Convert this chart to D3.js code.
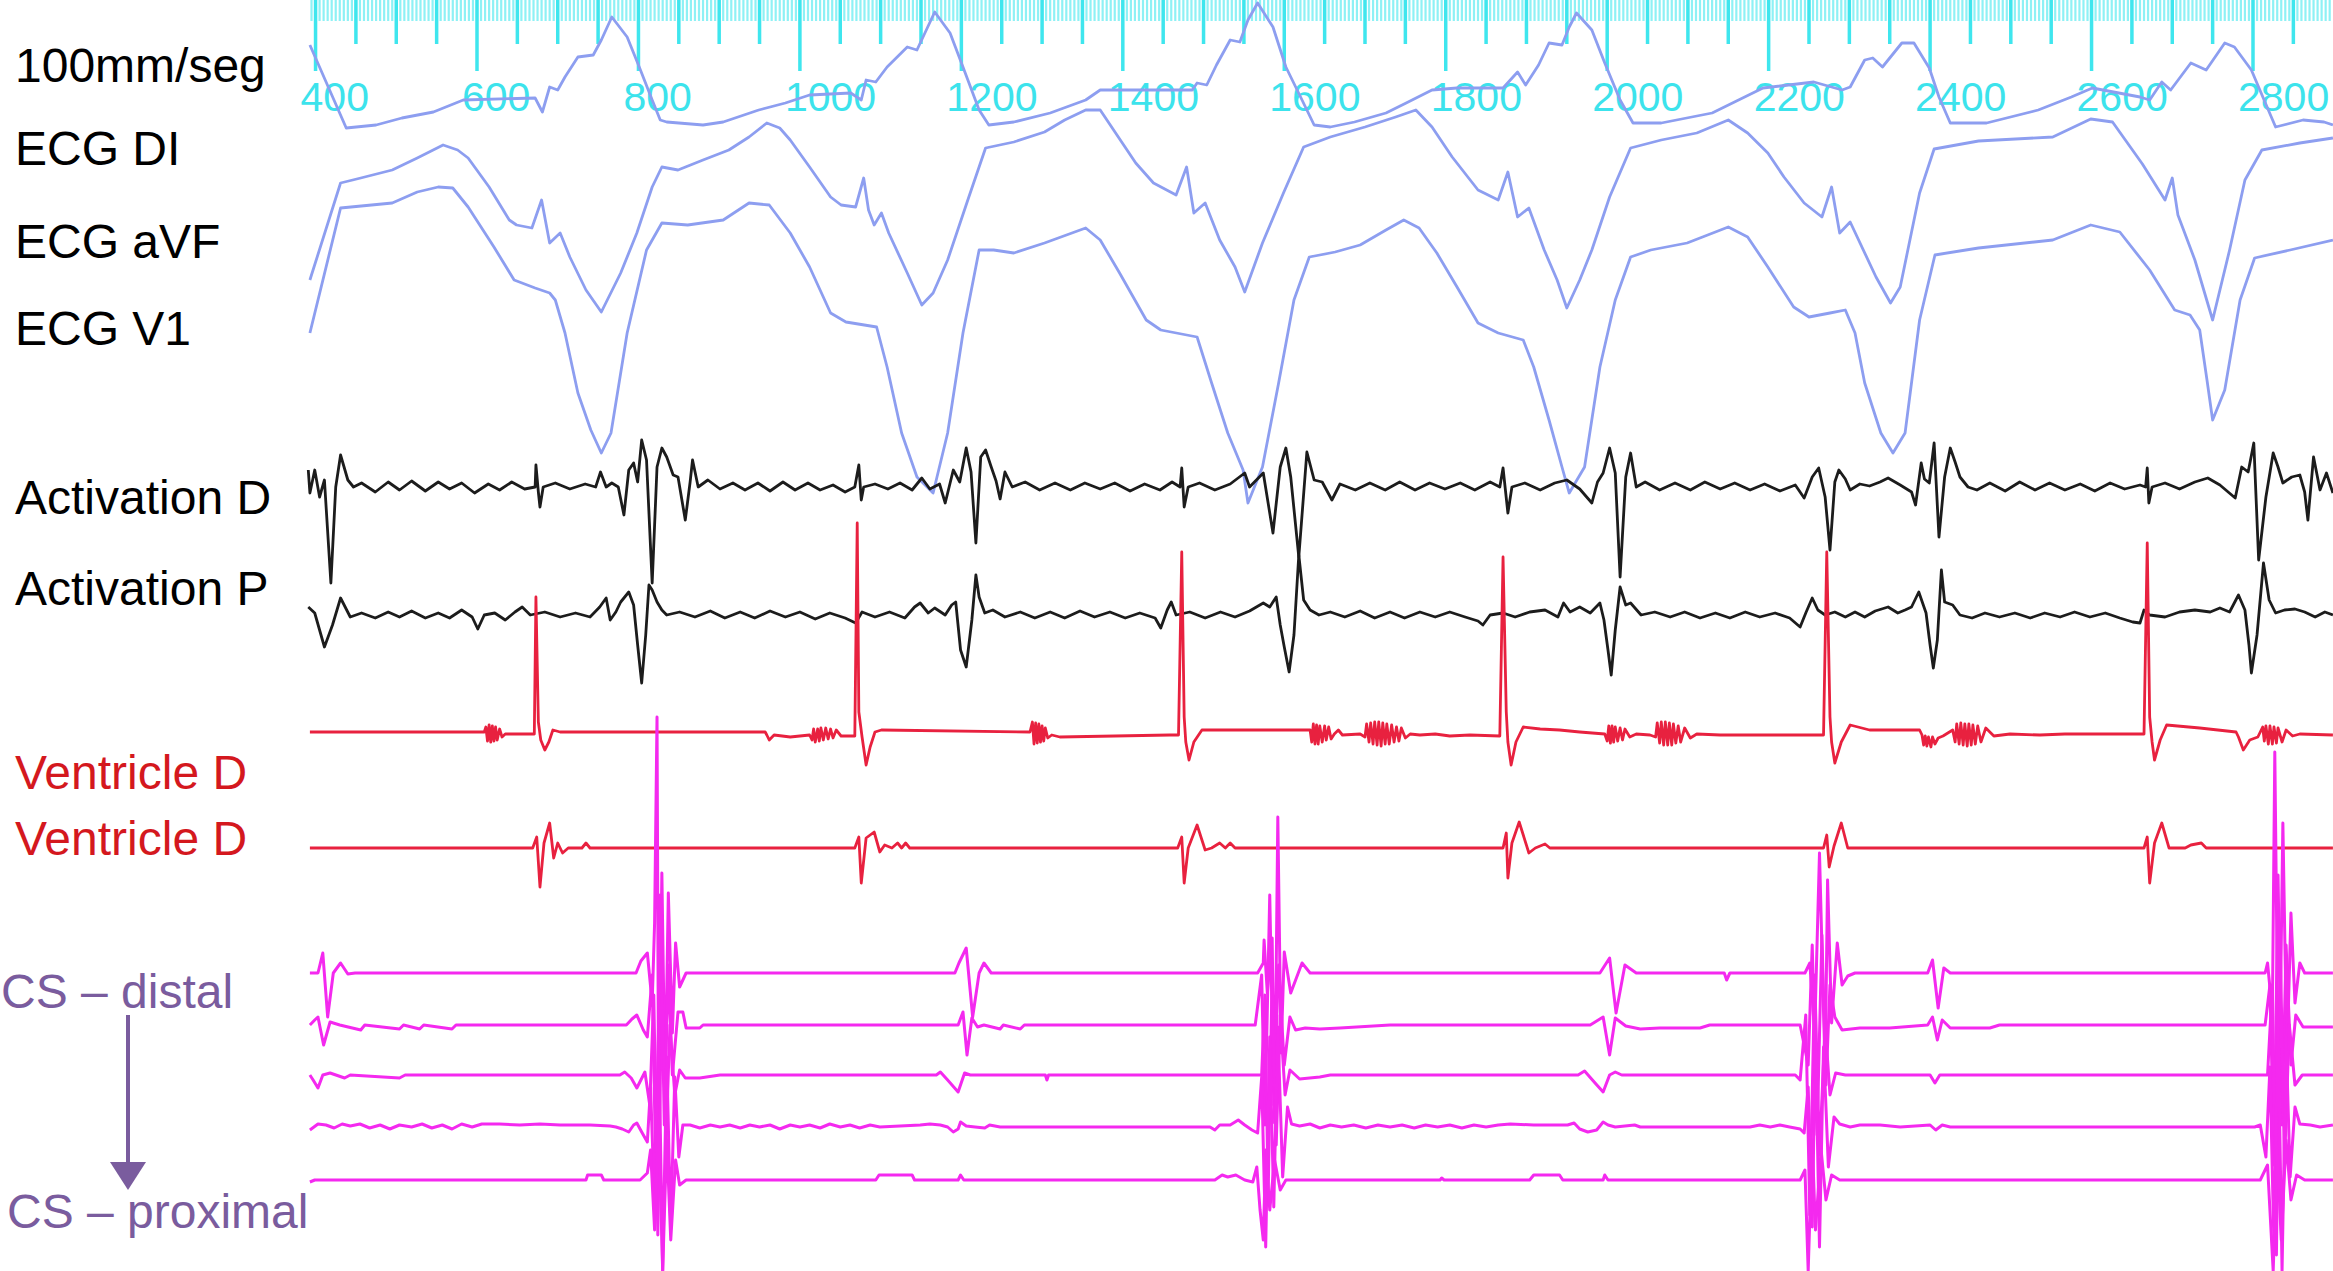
<!DOCTYPE html>
<html>
<head>
<meta charset="utf-8">
<script src="https://cdn.jsdelivr.net/npm/d3@7"></script>
<style>
  body { margin: 0; background: #fff; }
  svg { display: block; }
  text { font-family: "Liberation Sans", Arial, Helvetica, sans-serif; }
</style>
</head>
<body>
<div id="chart"></div>
<script>
// ruler labels (ms)
var rulerLabels = [400, 600, 800, 1000, 1200, 1400, 1600, 1800, 2000, 2200, 2400, 2600, 2800];

// each trace: [time in ms, amplitude]
var ecgDI = [[393,.80],[438,-.03],[475,0],[507,.07],[546,.13],[583,.25],[672,.27],[681,.13],[690,.38],[700,.35],[709,.48],[725,.68],[744,.70],[754,.85],[767,1.08],[786,.88],[801,.58],[817,.25],[827,.05],[835,.03],[880,0],[905,.03],[949,.15],[982,.22],[1012,.30],[1063,.32],[1076,.25],[1082,.45],[1094,.43],[1108,.58],[1133,.78],[1145,.75],[1167,1.13],[1186,.92],[1202,.58],[1222,.15],[1234,0],[1265,.03],[1310,.12],[1354,.25],[1372,.35],[1486,.35],[1492,.42],[1504,.40],[1516,.60],[1533,.85],[1545,.83],[1555,1.05],[1567,1.22],[1586,.98],[1602,.58],[1622,.25],[1637,0],[1657,-.02],[1687,.03],[1726,.12],[1751,.22],[1783,.35],[1814,.37],[1871,.37],[1889,.53],[1899,.40],[1915,.60],[1928,.82],[1944,.80],[1953,.98],[1962,1.12],[1981,.95],[1997,.62],[2016,.25],[2032,.02],[2067,.02],[2130,.12],[2193,.37],[2256,.43],[2291,.35],[2301,.38],[2319,.65],[2329,.67],[2341,.58],[2365,.82],[2380,.82],[2399,.57],[2411,.28],[2425,.02],[2470,.02],[2534,.15],[2575,.28],[2601,.37],[2660,.28],[2672,.25],[2687,.43],[2698,.35],[2723,.62],[2742,.55],[2765,.82],[2777,.78],[2798,.55],[2819,.15],[2828,-.02],[2862,.05],[2888,.03],[2899,0]];

var ecgAVF = [[393,-.50],[431,.47],[456,.52],[495,.60],[526,.72],[558,.85],[576,.80],[589,.72],[615,.43],[640,.10],[649,.05],[668,.02],[680,.30],[690,-.13],[703,-.03],[715,-.27],[735,-.60],[754,-.82],[778,-.43],[798,-.03],[817,.43],[829,.63],[849,.60],[880,.70],[912,.80],[937,.93],[959,1.07],[975,1.02],[988,.90],[1012,.63],[1038,.33],[1051,.25],[1069,.23],[1079,.52],[1085,.20],[1092,.05],[1101,.17],[1110,-.03],[1133,-.43],[1151,-.75],[1165,-.63],[1183,-.30],[1208,.30],[1230,.82],[1265,.88],[1303,.98],[1328,1.10],[1354,1.20],[1372,1.20],[1416,.67],[1438,.47],[1466,.35],[1479,.63],[1488,.17],[1502,.27],[1520,-.10],[1539,-.37],[1551,-.62],[1573,-.13],[1599,.37],[1624,.83],[1657,.93],[1700,1.03],[1738,1.13],[1763,1.20],[1783,1.03],[1808,.73],[1840,.40],[1865,.30],[1877,.58],[1889,.13],[1903,.22],[1922,-.20],[1938,-.50],[1950,-.78],[1966,-.50],[1981,-.20],[2003,.33],[2029,.82],[2067,.90],[2111,.97],[2150,1.10],[2174,.97],[2199,.77],[2219,.53],[2244,.27],[2266,.13],[2278,.43],[2288,-.03],[2301,.08],[2333,-.47],[2351,-.73],[2363,-.57],[2387,.37],[2405,.81],[2460,.89],[2552,.93],[2599,1.11],[2626,1.08],[2663,.66],[2691,.30],[2700,.52],[2707,.15],[2728,-.30],[2750,-.90],[2771,-.20],[2790,.50],[2811,.80],[2858,.87],[2899,.92]];

var ecgV1 = [[393,-.03],[431,1.22],[495,1.27],[526,1.38],[552,1.43],[570,1.42],[589,1.23],[621,.83],[646,.50],[672,.42],[690,.37],[697,.30],[709,-.03],[725,-.63],[741,-1.00],[754,-1.23],[766,-1.03],[786,-.03],[810,.80],[829,1.07],[861,1.05],[905,1.10],[937,1.27],[962,1.25],[988,.97],[1012,.63],[1038,.17],[1057,.08],[1095,.03],[1108,-.37],[1126,-1.03],[1145,-1.47],[1165,-1.63],[1183,-1.03],[1202,-.03],[1222,.80],[1240,.80],[1265,.77],[1303,.87],[1354,1.02],[1372,.90],[1396,.57],[1429,.10],[1447,0],[1492,-.07],[1510,-.53],[1530,-1.03],[1549,-1.40],[1555,-1.73],[1573,-1.37],[1593,-.53],[1612,.30],[1631,.73],[1663,.78],[1694,.85],[1726,1.00],[1748,1.10],[1767,1.02],[1789,.77],[1814,.43],[1840,.07],[1865,-.03],[1896,-.10],[1909,-.37],[1928,-.90],[1944,-1.37],[1953,-1.63],[1972,-1.37],[1991,-.37],[2010,.30],[2029,.73],[2054,.80],[2099,.87],[2150,1.03],[2174,.93],[2199,.63],[2231,.23],[2250,.13],[2276,.17],[2295,.20],[2307,-.03],[2319,-.53],[2339,-1.03],[2354,-1.23],[2369,-1.03],[2387,.10],[2406,.75],[2460,.82],[2552,.90],[2599,1.05],[2635,.98],[2672,.60],[2703,.20],[2722,.15],[2734,0],[2743,-.50],[2750,-.90],[2765,-.60],[2784,.30],[2802,.72],[2846,.80],[2899,.90]];

var actD = [[391,.17],[393,-.06],[399,.17],[405,-.10],[411,.07],[419,-.96],[425,0],[431,.32],[440,.07],[447,0],[457,.04],[474,-.05],[490,.05],[504,-.03],[519,.06],[536,-.04],[552,.05],[566,-.02],[581,.04],[597,-.06],[614,.03],[628,-.03],[643,.05],[659,-.02],[672,0],[673,.22],[676,-.05],[678,-.20],[682,0],[697,.04],[715,-.02],[734,.03],[747,0],[753,.15],[760,0],[767,.04],[775,0],[782,-.28],[788,.17],[794,.24],[799,.05],[804,.47],[810,.27],[817,-.96],[823,.20],[829,.39],[835,.30],[843,.12],[849,.10],[858,-.33],[864,.05],[867,.27],[874,0],[886,.07],[901,-.02],[917,.04],[932,-.03],[948,.04],[963,-.04],[979,.05],[994,-.03],[1010,.04],[1025,-.03],[1041,.02],[1056,-.05],[1068,0],[1073,.22],[1076,-.13],[1079,0],[1093,.03],[1109,-.02],[1124,.04],[1139,-.03],[1151,.09],[1161,-.02],[1173,.03],[1180,-.16],[1190,.17],[1198,.05],[1206,.39],[1212,.15],[1218,-.56],[1224,.30],[1230,.37],[1237,.20],[1243,.06],[1248,-.12],[1254,.15],[1263,0],[1279,.05],[1297,-.03],[1316,.04],[1335,-.03],[1353,.04],[1372,-.02],[1390,.04],[1409,-.04],[1427,.03],[1446,-.03],[1461,.05],[1471,0],[1473,.19],[1476,-.20],[1481,0],[1495,.04],[1514,-.03],[1533,.03],[1551,.14],[1557,0],[1574,.14],[1586,-.46],[1595,.20],[1602,.39],[1608,.10],[1618,-.70],[1628,.35],[1637,.07],[1647,.05],[1659,-.13],[1669,.03],[1688,-.03],[1706,.04],[1725,-.03],[1743,.05],[1762,-.03],[1780,.04],[1799,-.02],[1818,.04],[1836,-.03],[1855,.05],[1867,0],[1871,.19],[1877,-.26],[1882,0],[1898,.04],[1917,-.03],[1935,.04],[1950,.07],[1966,-.02],[1981,-.16],[1988,.05],[1995,.14],[2003,.39],[2010,.14],[2016,-.90],[2023,.10],[2029,.34],[2036,0],[2047,.05],[2065,-.03],[2084,.04],[2103,-.03],[2121,.05],[2140,-.02],[2158,.04],[2177,-.03],[2195,.03],[2214,-.04],[2233,.02],[2244,-.11],[2254,.10],[2262,.19],[2270,-.10],[2276,-.63],[2282,.05],[2287,.17],[2295,.08],[2301,-.03],[2313,.03],[2325,.01],[2338,.05],[2348,.09],[2363,.02],[2377,-.05],[2382,-.18],[2389,.24],[2393,.08],[2399,.04],[2405,.44],[2411,-.50],[2418,.10],[2425,.39],[2431,.25],[2437,.10],[2447,0],[2458,-.03],[2474,.04],[2493,-.04],[2511,.05],[2530,-.03],[2548,.04],[2567,-.03],[2586,.03],[2604,-.04],[2623,.04],[2641,-.02],[2660,.02],[2667,0],[2669,.19],[2671,-.16],[2675,0],[2691,.04],[2709,-.02],[2728,.05],[2744,.09],[2759,.02],[2778,-.11],[2786,.20],[2794,.15],[2801,.44],[2807,-.73],[2816,-.10],[2825,.34],[2831,.20],[2837,.04],[2848,.10],[2858,.12],[2864,-.05],[2868,-.33],[2875,.30],[2883,-.03],[2891,.14],[2899,-.06]];

var actP = [[391,.08],[399,.02],[411,-.32],[421,-.10],[431,.17],[443,-.02],[457,.02],[474,-.03],[490,.03],[504,-.02],[519,.04],[536,-.03],[552,.02],[566,-.03],[581,.05],[594,-.02],[601,-.14],[609,0],[622,.02],[635,-.05],[647,.03],[656,.08],[666,0],[684,.03],[703,-.02],[722,.02],[740,-.02],[752,.08],[760,.17],[765,-.05],[772,.03],[778,.13],[788,.23],[794,.10],[799,-.30],[804,-.68],[809,-.20],[813,.30],[817,.25],[823,.13],[829,.05],[835,0],[851,.03],[870,-.02],[889,.04],[907,-.03],[926,.03],[944,-.03],[963,.04],[982,-.02],[1000,.03],[1019,-.04],[1037,.02],[1056,-.03],[1069,-.08],[1077,.03],[1093,-.02],[1111,.03],[1130,-.03],[1142,.08],[1149,.12],[1159,.02],[1167,.07],[1180,0],[1188,.10],[1193,.13],[1199,-.35],[1206,-.52],[1213,-.05],[1218,.40],[1222,.18],[1229,.02],[1239,.05],[1254,-.02],[1273,.03],[1291,-.03],[1310,.03],[1328,-.03],[1347,.04],[1365,-.02],[1384,.03],[1403,-.03],[1421,.02],[1440,-.03],[1447,-.13],[1455,.05],[1460,.13],[1466,0],[1483,.03],[1502,-.03],[1521,.03],[1539,-.02],[1557,.04],[1574,.12],[1582,.08],[1590,.18],[1595,-.10],[1600,-.32],[1606,-.57],[1612,-.20],[1618,.60],[1624,.15],[1632,.05],[1643,0],[1657,.03],[1675,-.02],[1694,.04],[1712,-.03],[1731,.03],[1749,-.03],[1768,.03],[1787,-.02],[1805,.03],[1824,-.02],[1840,-.06],[1846,-.10],[1855,0],[1871,.02],[1886,-.02],[1904,.03],[1923,.05],[1939,-.02],[1946,.12],[1954,.03],[1966,.08],[1979,.02],[1991,.12],[1996,-.05],[2001,-.35],[2005,-.60],[2010,-.15],[2016,.28],[2023,.10],[2029,.12],[2042,0],[2059,.03],[2078,-.02],[2096,.03],[2115,-.03],[2134,.02],[2152,-.03],[2171,.03],[2189,-.02],[2208,.02],[2226,-.03],[2239,-.12],[2246,.02],[2254,.17],[2261,.05],[2270,0],[2282,.03],[2295,-.02],[2307,.03],[2319,-.02],[2332,.04],[2348,.08],[2360,.02],[2369,.05],[2377,.08],[2386,.23],[2395,.02],[2400,-.30],[2404,-.53],[2409,-.25],[2414,.45],[2418,.13],[2428,.10],[2437,0],[2452,-.03],[2468,.02],[2486,-.02],[2505,.02],[2524,-.03],[2542,.02],[2561,-.02],[2579,.03],[2598,-.02],[2617,.02],[2635,-.03],[2651,-.07],[2660,-.08],[2665,.05],[2672,0],[2691,-.02],[2709,.03],[2728,.05],[2747,.03],[2759,.07],[2771,.03],[2782,.20],[2790,.05],[2795,-.30],[2798,-.58],[2805,-.20],[2813,.52],[2820,.15],[2828,.02],[2839,.05],[2852,.06],[2864,.03],[2877,-.02],[2889,.03],[2899,0]];

var ventD1 = [[393,0],[609,0],[611,.05],[613,-.09],[615,.07],[617,-.10],[619,.06],[621,-.09],[623,.05],[625,-.08],[628,.03],[631,-.05],[635,-.02],[666,-.02],[671,-.02],[673,1.35],[676,.10],[679,-.08],[684,-.18],[689,-.10],[694,.02],[703,0],[957,0],[959,-.03],[962,-.08],[968,-.03],[988,-.05],[1012,-.03],[1015,-.08],[1017,.03],[1019,-.10],[1022,.03],[1024,-.09],[1026,.04],[1029,-.08],[1032,.04],[1035,-.07],[1038,.03],[1041,-.06],[1045,.02],[1051,-.04],[1062,-.04],[1068,-.04],[1071,2.09],[1073,.20],[1077,-.05],[1082,-.33],[1087,-.15],[1093,0],[1101,.02],[1285,0],[1288,.10],[1290,-.12],[1292,.09],[1294,-.11],[1296,.08],[1298,-.10],[1300,.06],[1302,-.09],[1304,.04],[1307,-.06],[1312,-.03],[1322,-.05],[1458,-.03],[1469,-.03],[1473,1.80],[1476,.15],[1478,-.10],[1482,-.28],[1488,-.10],[1498,.02],[1632,.02],[1634,-.10],[1636,.08],[1638,-.12],[1640,.07],[1642,-.12],[1644,.06],[1647,-.10],[1650,.06],[1652,-.08],[1655,.05],[1658,-.07],[1662,-.02],[1667,.02],[1672,-.03],[1694,-.02],[1700,-.05],[1702,.08],[1705,-.10],[1707,.09],[1710,-.12],[1712,.10],[1715,-.13],[1717,.10],[1720,-.14],[1722,.09],[1725,-.12],[1727,.08],[1730,-.12],[1733,.07],[1736,-.10],[1739,.05],[1742,-.09],[1745,.04],[1750,-.06],[1756,-.02],[1768,-.03],[1787,-.02],[1805,-.04],[1830,-.03],[1867,-.04],[1871,1.75],[1875,.20],[1877,-.10],[1881,-.33],[1887,-.10],[1896,.05],[1917,.03],[1941,.02],[1966,0],[1997,-.02],[2000,-.09],[2002,.06],[2004,-.11],[2006,.06],[2008,-.10],[2010,.05],[2013,-.09],[2016,.04],[2019,-.08],[2022,.03],[2028,-.05],[2036,-.02],[2053,-.03],[2060,-.05],[2062,.09],[2065,-.11],[2067,.10],[2070,-.13],[2072,.10],[2075,-.13],[2077,.09],[2080,-.13],[2082,.08],[2085,-.11],[2088,.06],[2091,-.10],[2096,.04],[2103,-.06],[2111,-.02],[2140,-.03],[2187,-.03],[2239,-.03],[2268,-.03],[2272,1.80],[2276,.15],[2278,-.10],[2282,-.31],[2290,-.10],[2301,.07],[2325,.02],[2387,.02],[2390,-.03],[2392,-.13],[2394,-.04],[2396,-.14],[2398,-.05],[2401,-.15],[2403,-.05],[2406,-.12],[2410,-.06],[2416,-.04],[2428,.02],[2431,-.10],[2433,.08],[2436,-.12],[2438,.09],[2441,-.13],[2443,.08],[2446,-.14],[2448,.08],[2451,-.13],[2453,.07],[2456,-.12],[2459,.06],[2463,-.10],[2469,.04],[2479,-.04],[2499,-.02],[2536,-.03],[2567,-.02],[2665,-.02],[2669,1.89],[2672,.15],[2675,-.10],[2678,-.28],[2685,-.08],[2693,.07],[2734,.04],[2779,0],[2782,-.05],[2788,-.18],[2796,-.08],[2806,-.05],[2812,.05],[2814,-.09],[2816,.06],[2819,-.12],[2821,.06],[2824,-.12],[2826,.05],[2829,-.11],[2831,.04],[2836,-.10],[2841,.02],[2849,-.04],[2858,-.02],[2899,-.03]];

var ventD2 = [[393,0],[669,0],[674,.11],[678,-.39],[683,.05],[690,.25],[695,-.10],[700,.05],[706,-.05],[713,0],[730,0],[735,.05],[740,0],[1068,0],[1073,.11],[1076,-.35],[1082,.10],[1092,.16],[1099,-.04],[1105,.03],[1114,0],[1121,.05],[1126,0],[1131,.05],[1136,0],[1468,0],[1473,.11],[1476,-.35],[1481,0],[1492,.23],[1502,-.02],[1510,0],[1520,.05],[1527,0],[1533,.05],[1539,0],[1871,0],[1875,.15],[1877,-.30],[1882,.05],[1891,.26],[1903,-.05],[1911,0],[1923,.04],[1929,0],[2268,0],[2272,.13],[2275,-.19],[2281,.02],[2290,.25],[2298,0],[2665,0],[2669,.11],[2672,-.35],[2678,.05],[2687,.25],[2696,0],[2716,0],[2723,.03],[2736,.05],[2742,0],[2899,0]];

var cs1 = [[393,0],[403,0],[409,.20],[415,-.44],[422,0],[431,.10],[440,-.01],[449,0],[797,0],[803,.12],[811,.20],[817,-.30],[820,.50],[823,2.56],[825,-1.5],[829,1.0],[833,-1.2],[837,.8],[842,-.6],[846,.3],[851,-.14],[859,0],[1192,0],[1197,.10],[1206,.25],[1214,-.44],[1222,0],[1228,.10],[1237,0],[1567,0],[1574,.10],[1575,.33],[1579,-.20],[1585,.35],[1588,-1.5],[1592,1.56],[1596,-.8],[1600,.21],[1608,-.20],[1622,.10],[1632,0],[1991,0],[1995,.05],[2003,.15],[2011,-.40],[2022,.08],[2036,0],[2145,0],[2148,-.07],[2152,0],[2245,0],[2251,.10],[2257,-.6],[2263,1.2],[2270,-1.0],[2273,.93],[2278,-.5],[2285,.3],[2291,-.12],[2298,-.03],[2307,0],[2397,0],[2403,.13],[2410,-.35],[2417,.05],[2425,0],[2815,0],[2818,.10],[2824,-.4],[2827,2.21],[2832,-1.5],[2837,1.5],[2842,-.9],[2847,.6],[2852,-.3],[2858,.1],[2864,0],[2899,0]];

var cs2 = [[393,0],[399,.05],[403,.08],[410,-.20],[418,.03],[430,0],[456,-.05],[461,0],[504,-.04],[509,0],[529,-.04],[534,0],[569,-.04],[574,0],[785,0],[792,.06],[798,.10],[806,-.05],[811,-.12],[817,.5],[822,-1.7],[827,1.3],[832,-1.0],[837,.6],[842,-.5],[849,.13],[855,.13],[859,-.03],[864,-.03],[876,-.03],[880,0],[1196,0],[1202,.13],[1207,-.30],[1213,.07],[1220,-.02],[1228,0],[1248,-.04],[1252,0],[1273,-.04],[1278,0],[1564,0],[1572,.5],[1576,-1.0],[1582,1.3],[1587,-.8],[1593,.6],[1600,-.4],[1607,.08],[1614,-.05],[1626,-.03],[1644,-.04],[1669,-.03],[1731,0],[1979,0],[1989,.05],[1995,.08],[2003,-.30],[2010,.07],[2023,-.01],[2041,-.04],[2065,-.03],[2115,-.03],[2127,0],[2239,0],[2249,-.4],[2254,.8],[2260,-1.1],[2266,.9],[2271,-.6],[2276,.4],[2282,.08],[2291,-.05],[2313,-.03],[2350,-.03],[2397,0],[2403,.08],[2409,-.15],[2415,.05],[2425,-.03],[2474,-.03],[2486,0],[2815,0],[2821,.4],[2826,-1.4],[2831,1.5],[2836,-1.0],[2841,.8],[2847,-.4],[2853,.1],[2862,-.02],[2899,-.02]];

var cs3 = [[393,0],[397,-.05],[403,-.13],[409,0],[418,.02],[436,-.03],[443,0],[504,-.03],[511,0],[777,0],[783,.03],[791,-.03],[798,-.13],[808,.03],[814,-.3],[819,.8],[824,-1.6],[829,.9],[834,-.7],[839,.5],[845,-.2],[851,.05],[858,-.03],[876,-.03],[901,0],[1169,0],[1174,.03],[1183,-.05],[1196,-.17],[1204,.02],[1211,0],[1304,0],[1306,-.05],[1308,0],[1572,0],[1576,.8],[1580,-1.2],[1585,1.0],[1590,-.7],[1595,.6],[1601,-.2],[1607,.05],[1619,-.04],[1644,-.02],[1657,0],[1964,0],[1972,.04],[1985,-.08],[1995,-.17],[2003,0],[2010,.03],[2018,0],[2233,0],[2239,-.05],[2246,.6],[2251,-1.4],[2257,1.0],[2263,-.8],[2270,.5],[2276,-.2],[2283,.02],[2295,0],[2400,0],[2406,-.08],[2412,0],[2818,0],[2824,.9],[2829,-1.8],[2834,1.2],[2839,-.9],[2845,.5],[2852,-.1],[2861,0],[2899,0]];

var cs4 = [[393,-.03],[403,.03],[413,.02],[423,-.01],[433,.03],[443,.01],[455,.03],[467,-.01],[480,.02],[492,-.02],[504,.02],[519,0],[532,.03],[544,-.01],[557,.02],[569,-.02],[581,.03],[594,0],[606,.03],[628,.03],[653,.02],[678,.03],[703,.02],[740,.02],[765,.01],[772,0],[780,-.02],[788,-.05],[794,.02],[798,.04],[804,-.05],[811,-.15],[815,.4],[820,-.8],[825,1.0],[830,-1.44],[835,.7],[840,-1.0],[845,.5],[850,-.3],[855,.02],[864,.02],[876,-.01],[889,.02],[901,0],[913,.02],[926,-.01],[938,.02],[950,0],[963,.02],[975,-.02],[988,.02],[1000,0],[1012,.02],[1025,-.01],[1037,.03],[1050,0],[1062,.02],[1074,-.01],[1087,.02],[1099,0],[1149,.02],[1161,.03],[1174,.02],[1183,0],[1190,-.05],[1196,-.02],[1199,.05],[1206,.01],[1217,0],[1229,-.01],[1235,.02],[1248,0],[1508,0],[1514,-.03],[1520,.02],[1533,.02],[1543,.07],[1551,.02],[1560,-.03],[1567,-.06],[1572,.5],[1577,-1.2],[1582,.9],[1587,-.8],[1592,1.0],[1598,-.5],[1604,.2],[1609,.03],[1619,.01],[1632,.03],[1644,-.01],[1657,.02],[1671,0],[1686,.02],[1701,-.01],[1716,.02],[1731,0],[1746,.02],[1761,-.01],[1775,.02],[1790,0],[1805,.02],[1820,-.01],[1835,.02],[1850,0],[1865,.02],[1880,.03],[1909,.02],[1939,.02],[1951,.02],[1959,.04],[1966,-.02],[1976,-.05],[1987,-.03],[1995,.05],[2001,.02],[2010,0],[2034,.02],[2041,0],[2177,0],[2189,.02],[2202,0],[2214,.02],[2226,0],[2239,-.02],[2244,-.06],[2249,.4],[2254,-1.0],[2258,.9],[2263,-1.2],[2268,.8],[2274,-.4],[2281,.1],[2288,.03],[2301,0],[2313,.02],[2338,.02],[2363,0],[2400,.02],[2407,-.03],[2415,.02],[2425,0],[2802,0],[2809,.02],[2816,-.3],[2821,.6],[2826,-1.2],[2831,1.1],[2836,-1.44],[2841,.9],[2846,-.5],[2852,.2],[2858,.03],[2871,.02],[2883,0],[2899,.02]];

var cs5 = [[393,-.02],[399,0],[735,0],[737,.05],[754,.05],[757,0],[802,0],[811,.07],[815,.3],[820,-.5],[825,.6],[830,-.91],[835,.4],[840,-.6],[846,.2],[851,-.05],[859,0],[1094,0],[1098,.05],[1139,.05],[1142,0],[1196,0],[1199,.05],[1203,0],[1514,0],[1523,.05],[1530,.03],[1540,.05],[1551,0],[1561,-.02],[1566,.13],[1570,-.3],[1574,-.6],[1577,.3],[1582,-.3],[1588,.2],[1595,-.1],[1602,0],[1793,0],[1795,.02],[1798,0],[1904,0],[1909,.05],[1941,.05],[1945,0],[1995,0],[1997,.05],[2001,0],[2239,0],[2245,.1],[2249,-.91],[2254,.4],[2258,-.5],[2265,.3],[2271,-.2],[2278,.05],[2288,0],[2809,0],[2818,.15],[2825,-.91],[2830,.3],[2835,-.6],[2841,.4],[2847,-.2],[2854,.05],[2864,0],[2899,0]];

// set dimensions
var width = 2333, height = 1271;

var svg = d3.select("#chart")
  .append("svg")
    .attr("width", width)
    .attr("height", height)
    .style("background", "#fff");

// time scale (ruler in ms)
var x = d3.scaleLinear()
  .domain([600, 2800])
  .range([477, 2253]);

// Ruler at the top
var ruler = svg.append("g");
var fine = d3.range(395, 2900, 5);
var medium = d3.range(400, 2900, 50);

ruler.selectAll("line.fine")
  .data(fine)
  .enter().append("line")
    .attr("x1", function(d) { return x(d); })
    .attr("x2", function(d) { return x(d); })
    .attr("y1", 0).attr("y2", 21)
    .attr("stroke", "#8ef1f5")
    .attr("stroke-width", 2.2);

ruler.selectAll("line.med")
  .data(medium)
  .enter().append("line")
    .attr("x1", function(d) { return x(d); })
    .attr("x2", function(d) { return x(d); })
    .attr("y1", 0)
    .attr("y2", function(d) { return d % 200 == 0 ? 71 : 44; })
    .attr("stroke", "#3fe6ee")
    .attr("stroke-width", 3.5);

ruler.selectAll("text")
  .data(rulerLabels)
  .enter().append("text")
    .attr("x", function(d) { return x(d) - 15; })
    .attr("y", 111)
    .style("font-size", "41px")
    .style("fill", "#3ce3ec")
    .text(function(d) { return d; });

// channels: baseline and gain
var channels = [
  {data: ecgDI,  base: 125,  color: "#8d9ef0", w: 2.8},
  {data: ecgAVF, base: 230,  color: "#8d9ef0", w: 2.8},
  {data: ecgV1,  base: 330,  color: "#8d9ef0", w: 2.8},
  {data: actD,   base: 487,  color: "#1c1c1c", w: 2.8},
  {data: actP,   base: 615,  color: "#1c1c1c", w: 2.8},
  {data: ventD1, base: 732,  color: "#e8213f", w: 2.8},
  {data: ventD2, base: 848,  color: "#e8213f", w: 2.8},
  {data: cs1,    base: 973,  color: "#f429ef", w: 3},
  {data: cs2,    base: 1025, color: "#f429ef", w: 3},
  {data: cs3,    base: 1075, color: "#f429ef", w: 3},
  {data: cs4,    base: 1127, color: "#f429ef", w: 3},
  {data: cs5,    base: 1180, color: "#f429ef", w: 3}
];

channels.forEach(function(c) {
  var y = d3.scaleLinear()
    .domain([0, 1])
    .range([c.base, c.base - 100]);
  svg.append("path")
    .datum(c.data)
    .attr("fill", "none")
    .attr("stroke", c.color)
    .attr("stroke-width", c.w)
    .attr("stroke-linejoin", "round")
    .attr("d", d3.line()
      .x(function(d) { return x(d[0]); })
      .y(function(d) { return y(d[1]); })
    );
});

// Channel labels
var labels = [
  {t: "100mm/seg",    x: 15, y: 82,   c: "#000"},
  {t: "ECG DI",       x: 15, y: 165,  c: "#000"},
  {t: "ECG aVF",      x: 15, y: 258,  c: "#000"},
  {t: "ECG V1",       x: 15, y: 345,  c: "#000"},
  {t: "Activation D", x: 15, y: 514,  c: "#000"},
  {t: "Activation P", x: 15, y: 605,  c: "#000"},
  {t: "Ventricle D",  x: 15, y: 789,  c: "#d4181e"},
  {t: "Ventricle D",  x: 15, y: 855,  c: "#d4181e"},
  {t: "CS \u2013 distal",   x: 1, y: 1008, c: "#7a5c9e"},
  {t: "CS \u2013 proximal", x: 7, y: 1228, c: "#7a5c9e"}
];

svg.selectAll("text.lab")
  .data(labels)
  .enter().append("text")
    .attr("x", function(d) { return d.x; })
    .attr("y", function(d) { return d.y; })
    .style("font-size", "48px")
    .style("fill", function(d) { return d.c; })
    .text(function(d) { return d.t; });

// arrow distal -> proximal
svg.append("line")
  .attr("x1", 128).attr("x2", 128)
  .attr("y1", 1015).attr("y2", 1165)
  .attr("stroke", "#7a5c9e")
  .attr("stroke-width", 4);
svg.append("path")
  .attr("d", "M110,1162 L146,1162 L128,1190 Z")
  .attr("fill", "#7a5c9e");
</script>
</body>
</html>
